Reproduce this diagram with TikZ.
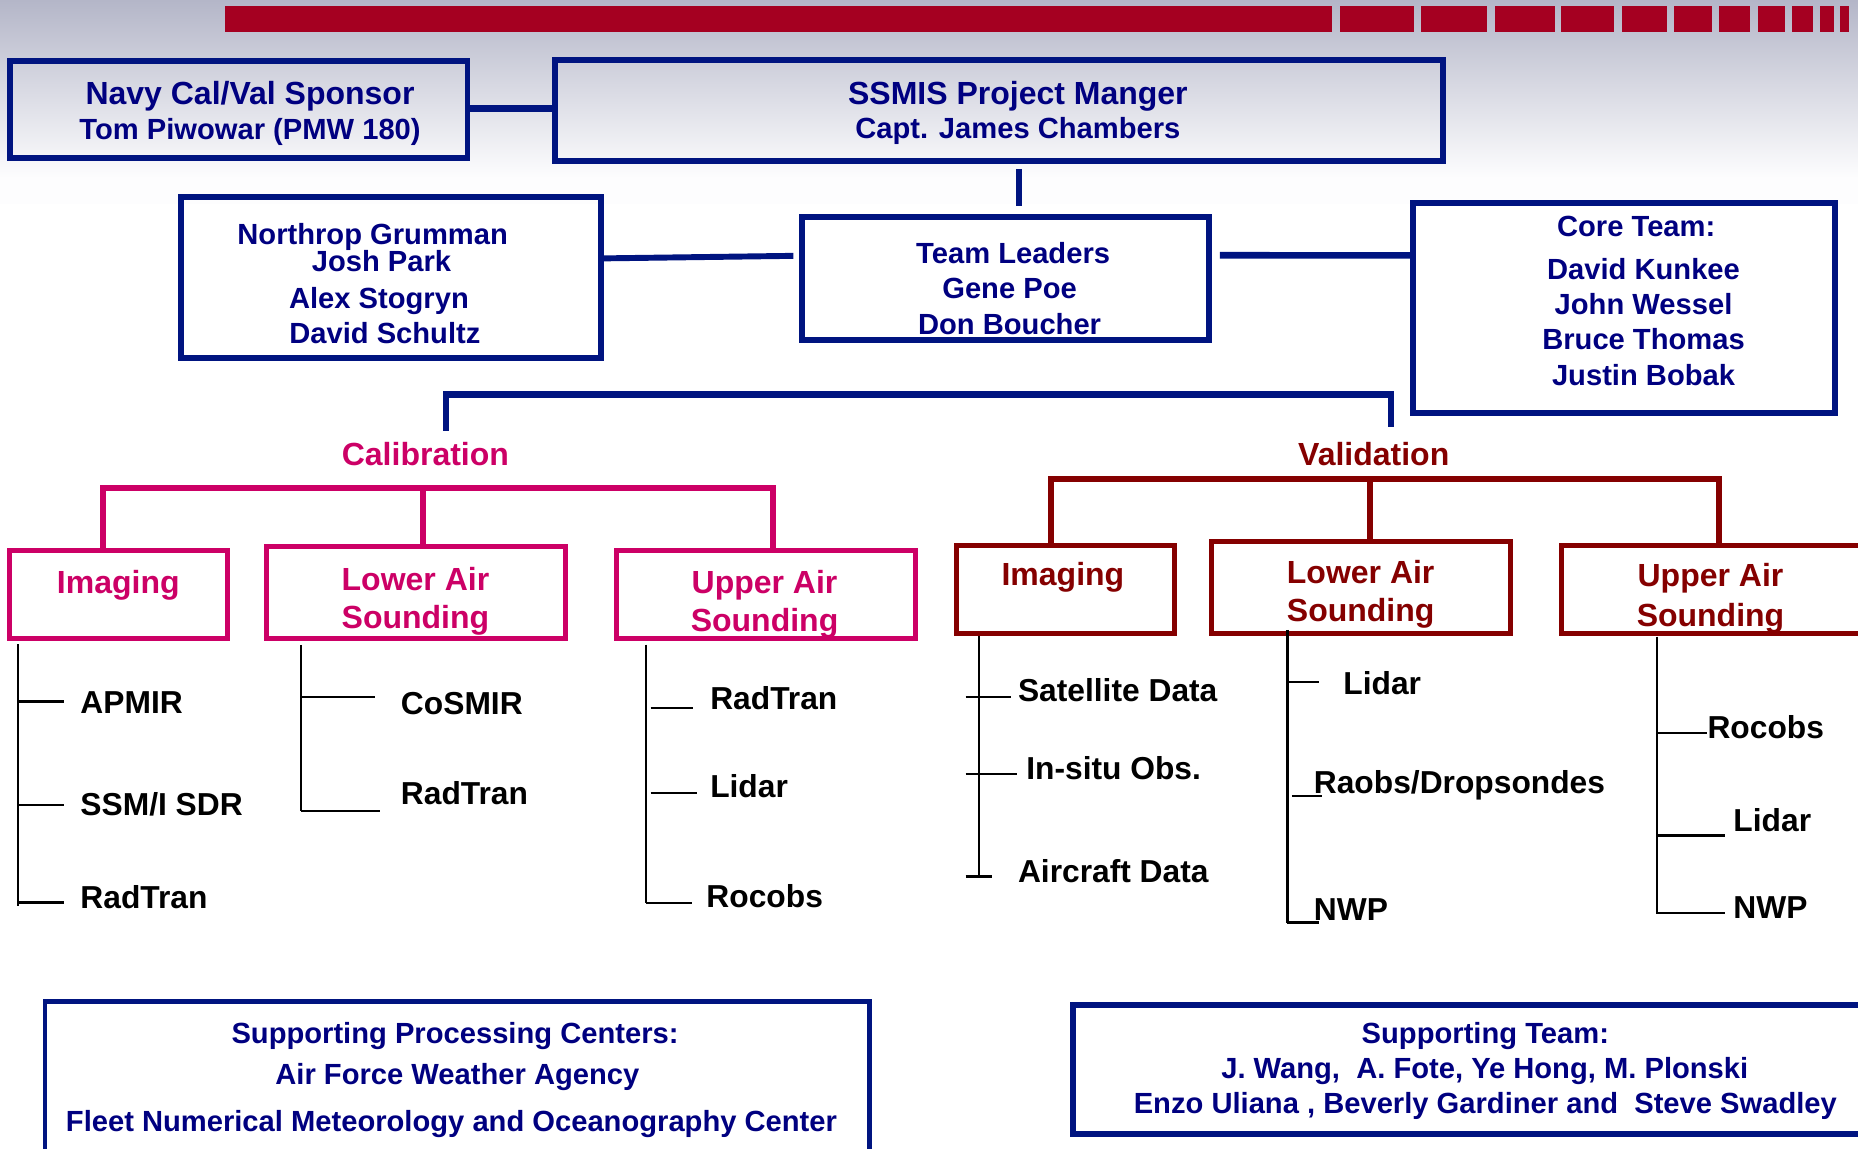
\documentclass[tikz,border=0pt]{standalone}
\usepackage{fontspec}
\setmainfont{Liberation Sans}
\usetikzlibrary{fit}
\definecolor{navyc}{RGB}{0,0,128}
\definecolor{navyb}{RGB}{0,20,128}
\definecolor{pinkc}{RGB}{204,0,102}
\definecolor{redc}{RGB}{133,0,0}
\definecolor{barred}{RGB}{165,0,33}
\definecolor{bgtop}{RGB}{180,182,200}
\definecolor{bgbot}{RGB}{253,253,254}
\begin{document}
\begin{tikzpicture}[x=0.5pt,y=-0.5pt,
  navybox/.style={draw=navyb, line width=2.5pt, inner sep=0pt},
  pinkbox/.style={draw=pinkc, line width=2.1pt, inner sep=0pt},
  redbox/.style={draw=redc, line width=2.1pt, inner sep=0pt},
  bigtxt/.style={font=\fontsize{13.5}{16}\selectfont\bfseries, inner sep=0pt, anchor=base},
  smtxt/.style={font=\fontsize{12.3}{15}\selectfont\bfseries, inner sep=0pt, anchor=base},
  leaf/.style={font=\fontsize{13.4}{16}\selectfont\bfseries, inner sep=0pt, anchor=base west, text=black},
  navyline/.style={draw=navyb, line width=2.8pt},
  pinkline/.style={draw=pinkc, line width=2.5pt},
  redline/.style={draw=redc, line width=2.5pt},
  treeline/.style={draw=black, line width=1pt},
]
\useasboundingbox (0,0) rectangle (1568,969);
\clip (0,0) rectangle (1568,969);
% background
\fill[white] (0,0) rectangle (1568,969);
\shade[top color=bgtop, bottom color=bgbot] (0,0) rectangle (1568,150);
\fill[bgbot] (0,150) rectangle (1568,172);
% top red bar
\fill[barred] (190,5) rectangle (1124,27);
\foreach \a/\b in {1131/1193,1199/1255,1262/1312,1317/1362,1369/1407,1413/1445,1451/1477,1484/1506,1512/1530,1536/1548,1553/1560}
  {\fill[barred] (\a,5) rectangle (\b,27);}

% top boxes
\node[navybox, fit={(8.5,51.5) (394.5,133.5)}] (navy) {};
\node[navybox, fit={(468.5,51) (1217.5,136)}] (ssmis) {};
\node[navybox, fit={(152.5,166.5) (507,302)}] (northrop) {};
\node[navybox, fit={(677,183.5) (1020.5,287)}] (tl) {};
\node[navybox, fit={(1192.8,171.3) (1548.8,348.3)}] (core) {};

\node[bigtxt, text=navyc] (navy1) at (211,88) {Navy Cal/Val Sponsor};
\node[smtxt, text=navyc] (navy2) at (211,118) {Tom Piwowar (PMW 180)};
\node[bigtxt, text=navyc] (ssmis1) at (859,88) {SSMIS Project Manger};
\node[smtxt, text=navyc] (ssmis2) at (859,117) {Capt. James Chambers};
\node[smtxt, text=navyc] (ng1) at (314.5,206) {Northrop Grumman};
\node[smtxt, text=navyc] (ng2) at (322,229) {Josh Park};
\node[smtxt, text=navyc] (ng3) at (319.8,260) {Alex Stogryn};
\node[smtxt, text=navyc] (ng4) at (324.8,290) {David Schultz};
\node[smtxt, text=navyc] (tl1) at (855,222) {Team Leaders};
\node[smtxt, text=navyc] (tl2) at (852,252) {Gene Poe};
\node[smtxt, text=navyc] (tl3) at (852,282) {Don Boucher};
\node[smtxt, text=navyc] (ct1) at (1380.8,200) {Core Team:};
\node[smtxt, text=navyc] (ct2) at (1387,235.5) {David Kunkee};
\node[smtxt, text=navyc] (ct3) at (1387,265) {John Wessel};
\node[smtxt, text=navyc] (ct4) at (1387,295) {Bruce Thomas};
\node[smtxt, text=navyc] (ct5) at (1387,325) {Justin Bobak};

% navy connectors
\coordinate (vx) at (860,0);
\draw[navyline] ([yshift=0.6pt]navy.east) -- ([yshift=0.6pt]navy.east -| ssmis.west);
\draw[navyline, line width=2.7pt, shorten <=2pt, shorten >=3.75pt] (ssmis.south -| vx) -- (tl.north -| vx);
\draw[navyline, line width=2.5pt, shorten >=2.5pt] ([yshift=8.1pt]northrop.east) -- ([yshift=9.7pt]tl.west);
\draw[navyline, shorten <=3.25pt] ([yshift=9.9pt]tl.east) -- ([yshift=22.15pt]core.west);
\draw[navyline] (376.5,363.5) -- (376.5,332.8) -- (1173.8,332.8) -- (1173.8,360);

% section titles
\node[bigtxt, text=pinkc] (cal) at (359,393) {Calibration};
\node[bigtxt, text=redc] (val) at (1159.3,393) {Validation};

% calibration boxes
\draw[pinkline] (86.6,464) -- (86.6,412) -- (652.7,412) -- (652.7,464);
\draw[pinkline] (357,412) -- (357,461);
\node[pinkbox, fit={(8,464.8) (192,539)}] (pimg) {};
\node[pinkbox, fit={(224.8,461.5) (477,539)}] (plow) {};
\node[pinkbox, fit={(520,464.8) (772.2,539)}] (pup) {};
\node[bigtxt, text=pinkc] (pimgt) at (99.8,500.5) {Imaging};
\node[bigtxt, text=pinkc] (plowt1) at (350.6,498) {Lower Air};
\node[bigtxt, text=pinkc] (plowt2) at (350.6,530) {Sounding};
\node[bigtxt, text=pinkc] (pupt1) at (645.2,500.5) {Upper Air};
\node[bigtxt, text=pinkc] (pupt2) at (645.2,533) {Sounding};

% validation boxes
\draw[redline] (887,461) -- (887,404.5) -- (1451,404.5) -- (1451,461);
\draw[redline] (1156,404.5) -- (1156,457);
\node[redbox, fit={(807,460.6) (991,534.6)}] (rimg) {};
\node[redbox, fit={(1022.6,457) (1274.5,534.6)}] (rlow) {};
\node[redbox, fit={(1318,460.6) (1600,534.6)}] (rup) {};
\node[bigtxt, text=redc] (rimgt) at (897,494) {Imaging};
\node[bigtxt, text=redc] (rlowt1) at (1148.3,492) {Lower Air};
\node[bigtxt, text=redc] (rlowt2) at (1148.3,524.6) {Sounding};
\node[bigtxt, text=redc] (rupt1) at (1443.5,495) {Upper Air};
\node[bigtxt, text=redc] (rupt2) at (1443.5,529) {Sounding};

% calibration trees
\draw[treeline] (15,543.5) -- (15,765);
\draw[treeline] (15,592) -- (54,592);
\draw[treeline] (15,679.4) -- (54,679.4);
\draw[treeline] (15,761.7) -- (54,761.7);
\node[leaf] (l1) at (67.5,602.5) {APMIR};
\node[leaf] (l2) at (67.5,688) {SSM/I SDR};
\node[leaf] (l3) at (67.5,767) {RadTran};

\draw[treeline] (254,544.3) -- (254,684.4);
\draw[treeline] (254,588) -- (316.4,588);
\draw[treeline] (254,684.4) -- (321,684.4);
\node[leaf] (l4) at (338,603) {CoSMIR};
\node[leaf] (l5) at (338,679) {RadTran};

\draw[treeline] (545,544) -- (545,762);
\draw[treeline] (549,597.6) -- (584.6,597.6);
\draw[treeline] (549,669) -- (588.6,669);
\draw[treeline] (545,762) -- (583.6,762);
\node[leaf] (l6) at (599,599) {RadTran};
\node[leaf] (l7) at (599,673) {Lidar};
\node[leaf] (l8) at (595.8,766) {Rocobs};

% validation trees
\draw[treeline] (826.3,536.7) -- (826.3,739.8);
\draw[treeline] (814.8,588) -- (853.2,588);
\draw[treeline] (814.8,653.4) -- (858.2,653.4);
\draw[treeline] (814.8,739.8) -- (837,739.8);
\node[leaf] (l9) at (858.7,592) {Satellite Data};
\node[leaf] (l10) at (865.7,658) {In-situ Obs.};
\node[leaf] (l11) at (858.7,744.5) {Aircraft Data};

\draw[treeline] (1086.4,531.6) -- (1086.4,779.2);
\draw[treeline] (1086.4,575.3) -- (1112.9,575.3);
\draw[treeline] (1090.3,671.5) -- (1115.4,671.5);
\draw[treeline] (1086.4,778.6) -- (1112.9,778.6);
\node[leaf] (l12) at (1133.3,585.7) {Lidar};
\node[leaf] (l13) at (1108.4,669.5) {Raobs/Dropsondes};
\node[leaf] (l14) at (1108.4,777) {NWP};

\draw[treeline] (1398.5,537.3) -- (1398.5,771.3);
\draw[treeline] (1398.5,618.8) -- (1440.4,618.8);
\draw[treeline] (1398.5,705.2) -- (1455.5,705.2);
\draw[treeline] (1398.5,770.7) -- (1455.5,770.7);
\node[leaf] (l15) at (1440.6,623.6) {Rocobs};
\node[leaf] (l16) at (1462.5,701.8) {Lidar};
\node[leaf] (l17) at (1462.5,775) {NWP};

% bottom boxes
\node[navybox, line width=2pt, fit={(38,845.3) (734,1000)}] (spc) {};
\node[navybox, fit={(905.5,848.3) (1600,956.7)}] (st) {};
\node[smtxt, text=navyc] (spc1) at (384,880.4) {Supporting Processing Centers:};
\node[smtxt, text=navyc] (spc2) at (386,915) {Air Force Weather Agency};
\node[smtxt, text=navyc] (spc3) at (381,955) {Fleet Numerical Meteorology and Oceanography Center};
\node[smtxt, text=navyc] (st1) at (1253.5,880.4) {Supporting Team:};
\node[smtxt, text=navyc] (st2) at (1253,910) {J. Wang,\ \ A. Fote, Ye Hong, M. Plonski};
\node[smtxt, text=navyc] (st3) at (1253.5,939.5) {Enzo Uliana , Beverly Gardiner and\ \ Steve Swadley};
\end{tikzpicture}
\end{document}
